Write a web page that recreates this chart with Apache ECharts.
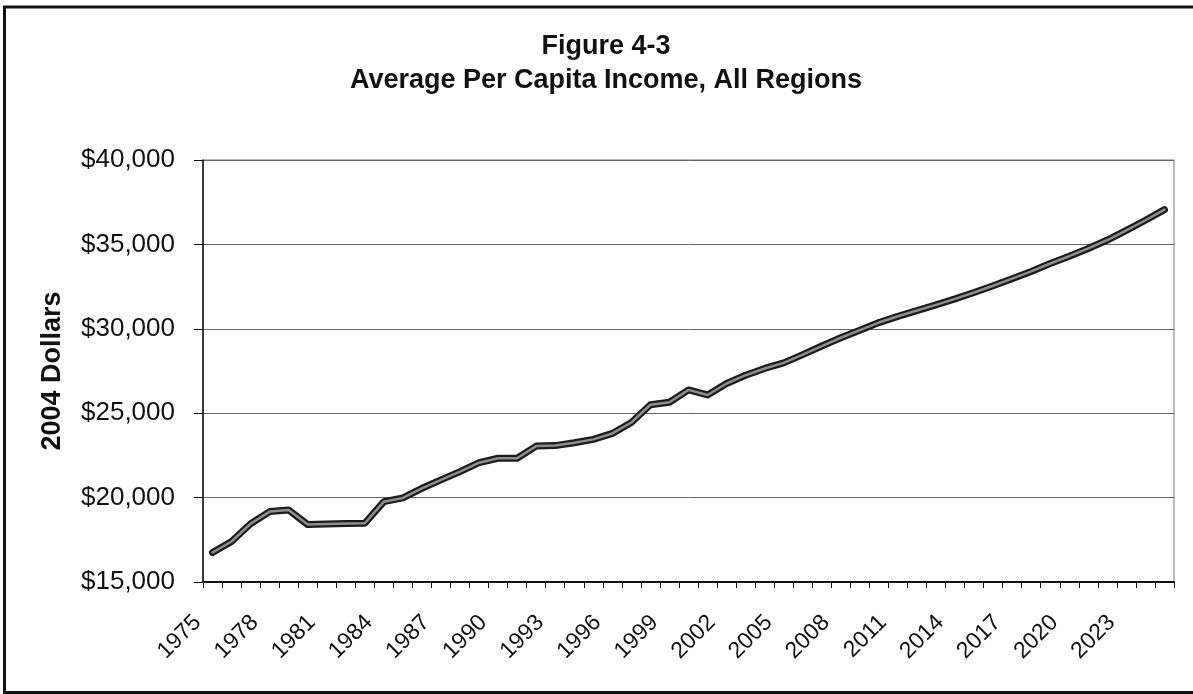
<!DOCTYPE html>
<html>
<head>
<meta charset="utf-8">
<title>Figure 4-3 Average Per Capita Income, All Regions</title>
<script src="https://cdn.jsdelivr.net/npm/echarts@6/dist/echarts.min.js"></script>
<style>
  html, body { margin: 0; padding: 0; background: #ffffff; }
  #chart { width: 1193px; height: 694px; }
</style>
</head>
<body>
<div id="chart"></div>
<script>
// Years on the category axis
const years = [
  '1975','1976','1977','1978','1979','1980','1981','1982','1983','1984',
  '1985','1986','1987','1988','1989','1990','1991','1992','1993','1994',
  '1995','1996','1997','1998','1999','2000','2001','2002','2003','2004',
  '2005','2006','2007','2008','2009','2010','2011','2012','2013','2014',
  '2015','2016','2017','2018','2019','2020','2021','2022','2023','2024',
  '2025'
];

// Average per capita income, all regions (2004 dollars)
const incomeValues = [
  16750, 17400, 18450, 19170, 19270, 18400, 18430, 18460, 18480, 19760,
  19980, 20550, 21050, 21540, 22070, 22330, 22330, 23050, 23080, 23250,
  23450, 23800, 24450, 25500, 25650, 26380, 26080, 26760, 27250, 27650,
  27980, 28470, 28980, 29470, 29920, 30370, 30740, 31080, 31420, 31770,
  32150, 32550, 32970, 33400, 33870, 34300, 34760, 35260, 35830, 36430,
  37060
];

// Value axis range and step
const yMin = 15000;
const yMax = 40000;
const yStep = 5000;

const titleLines = ['Figure 4-3', 'Average Per Capita Income, All Regions'];
const yAxisTitle = '2004 Dollars';

const FONT = "'Liberation Sans', Arial, Helvetica, sans-serif";

const chart = echarts.init(document.getElementById('chart'), null, { renderer: 'canvas' });

const option = {
  backgroundColor: '#ffffff',
  animation: false,
  title: {
    text: titleLines.join('\n'),
    left: 601,
    top: 25,
    textAlign: 'center',
    textStyle: {
      fontFamily: FONT,
      fontSize: 27,
      fontWeight: 'bold',
      color: '#111',
      lineHeight: 34
    }
  },
  // Outer frame of the figure
  graphic: [{
    type: 'rect',
    silent: true,
    shape: { x: 4.5, y: 7, width: 1200, height: 685.5 },
    style: { fill: 'none', stroke: '#111', lineWidth: 3 }
  }],
  grid: {
    left: 203,
    right: 19,
    top: 160,
    bottom: 112,
    show: true,
    borderColor: '#777',
    borderWidth: 1
  },
  xAxis: {
    type: 'category',
    data: years,
    boundaryGap: true,
    axisLine: { show: true, lineStyle: { color: '#111', width: 2 } },
    axisTick: {
      show: true,
      interval: 0,
      alignWithLabel: false,
      length: 6,
      lineStyle: { color: '#111', width: 1 }
    },
    axisLabel: {
      interval: 2,
      rotate: 45,
      margin: 22,
      padding: [0, 21, 0, 0],
      fontFamily: FONT,
      fontSize: 23,
      color: '#111'
    },
    splitLine: { show: false }
  },
  yAxis: {
    type: 'value',
    min: yMin,
    max: yMax,
    interval: yStep,
    name: yAxisTitle,
    nameLocation: 'middle',
    nameGap: 137,
    nameTextStyle: {
      fontFamily: FONT,
      fontSize: 27,
      fontWeight: 'bold',
      color: '#111'
    },
    axisLine: { show: true, lineStyle: { color: '#111', width: 1.5 } },
    axisTick: { show: true, length: 9, lineStyle: { color: '#111', width: 1 } },
    axisLabel: {
      margin: 28,
      fontFamily: FONT,
      fontSize: 26,
      color: '#111',
      formatter: function (v) { return '$' + v.toLocaleString('en-US'); }
    },
    splitLine: { show: true, lineStyle: { color: '#666', width: 1 } }
  },
  series: [
    {
      // dark outer stroke of the income line
      name: 'Income outline',
      type: 'line',
      data: incomeValues,
      symbol: 'none',
      smooth: false,
      lineStyle: { color: '#1c1c1c', width: 7, cap: 'round', join: 'round' },
      z: 3
    },
    {
      // lighter core of the income line
      name: 'Income',
      type: 'line',
      data: incomeValues,
      symbol: 'none',
      smooth: false,
      lineStyle: { color: '#8e8e8e', width: 2.5, cap: 'round', join: 'round' },
      z: 4
    }
  ]
};

chart.setOption(option);
</script>
</body>
</html>
